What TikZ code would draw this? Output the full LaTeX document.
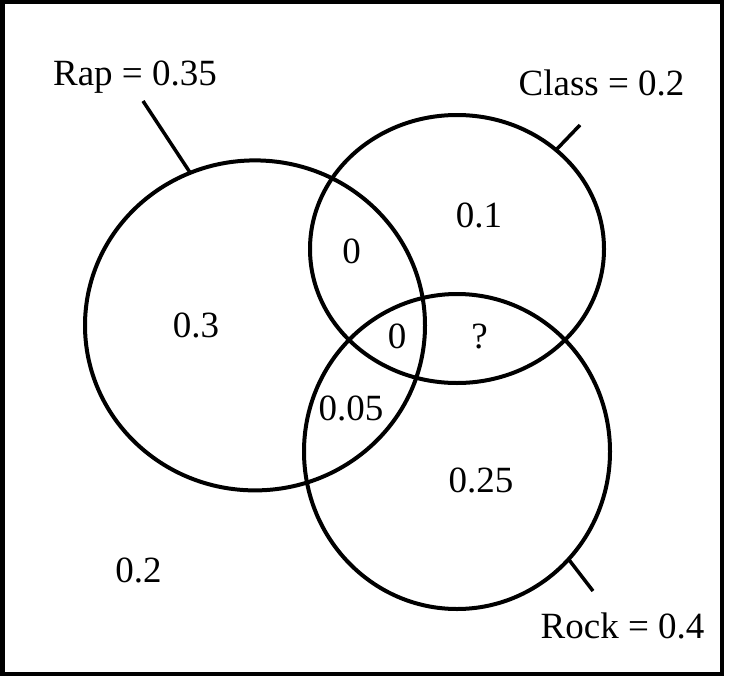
\documentclass[tikz,border=0pt]{standalone}
\usepackage{fontspec}
\setmainfont{Liberation Serif}
\usetikzlibrary{shapes.geometric}
\begin{document}
\begin{tikzpicture}[x=1pt,y=-1pt,
  setcirc/.style={draw,ellipse,line width=4pt,inner sep=0pt,outer sep=0pt},
  lbl/.style={anchor=base,inner sep=0pt,font=\fontsize{37}{40}\selectfont},
  pointer/.style={line width=3.5pt}]
\useasboundingbox (0,0) rectangle (730,677);
\draw[line width=4.5pt] (2.25,2.25) rectangle (721.75,673.75);
% circles
\node[setcirc,minimum width=340pt,minimum height=330pt] (rap) at (255,325.4) {};
\node[setcirc,minimum width=294pt,minimum height=268pt] (class) at (457,249) {};
\node[setcirc,minimum width=306pt,minimum height=315pt] (rock) at (457,451.5) {};
% set labels
\node[lbl] (raplbl) at (135,85) {Rap = 0.35};
\node[lbl] (classlbl) at (601.5,95) {Class = 0.2};
\node[lbl] (rocklbl) at (622.5,638) {Rock = 0.4};
% pointers
\coordinate (rapend) at (143,101);
\coordinate (classend) at (580,125);
\coordinate (rockend) at (593,591);
\draw[pointer] (rapend) -- (rap.113);
\draw[pointer] (classend) -- (class.45);
\draw[pointer] (rockend) -- (rock.-44);
% region values
\node[lbl] (vrap) at (196,337) {0.3};
\node[lbl] (vrc) at (351.5,263) {0};
\node[lbl] (vclass) at (479,227) {0.1};
\node[lbl] (vall) at (397,348) {0};
\node[lbl] (vcr) at (479.5,348) {?};
\node[lbl] (vrr) at (351,420) {0.05};
\node[lbl] (vrock) at (481,492) {0.25};
\node[lbl] (vout) at (138.5,582) {0.2};
\end{tikzpicture}
\end{document}
